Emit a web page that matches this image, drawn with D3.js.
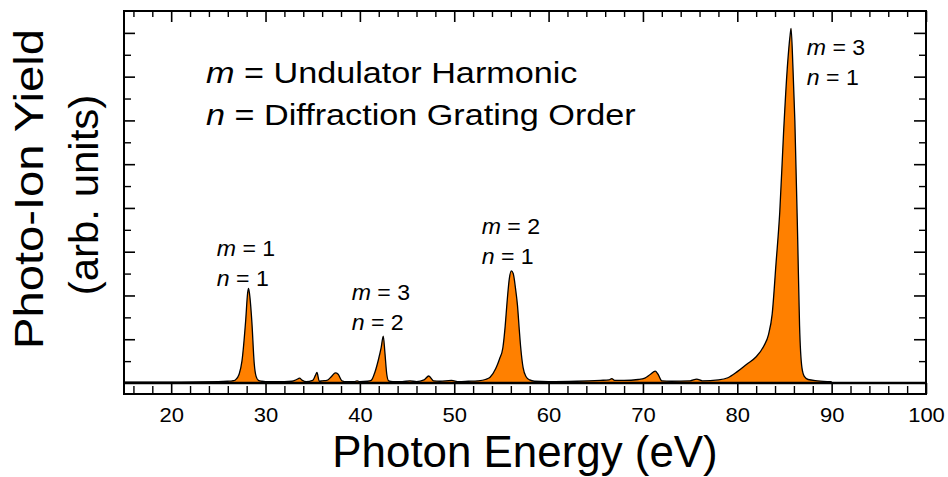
<!DOCTYPE html>
<html>
<head>
<meta charset="utf-8">
<script src="https://cdn.jsdelivr.net/npm/d3@7"></script>
<style>
  html, body { margin: 0; padding: 0; background: #fff; }
  svg { display: block; font-family: "Liberation Sans", Arial, sans-serif; }
</style>
</head>
<body>
<svg id="chart" width="948" height="477"></svg>
<script>
// photo-ion yield spectrum
const energy = [15, 20, 25, 26, 26.5, 26.8, 27.2, 27.5, 27.9, 28.1, 28.2, 28.35, 28.55, 28.8, 29.0, 29.25, 29.6, 30, 32,
  32.8, 33.3, 33.6, 33.9, 34.3, 35.0, 35.3, 35.45, 35.7, 36.0, 36.5, 37.0, 37.4, 37.7, 38.1, 38.6, 39.4, 39.7, 40.0,
  40.8, 41.2, 41.6, 41.95, 42.25, 42.48, 42.65, 42.85, 43.05, 43.5, 44.5, 45.3, 46, 46.8, 47.3, 47.8, 48.5, 49.7, 50.5,
  51.5, 52.5, 53.3, 53.8, 54.4, 54.8, 55.15, 55.4, 55.6, 55.85, 56.05, 56.25, 56.5, 56.7, 56.9, 57.05, 57.3, 57.6, 58.0,
  58.5, 60, 63, 65.5, 66.4, 66.7, 67.0, 68, 69.5, 70.2, 70.8, 71.3, 71.6, 72.0, 73, 75, 75.7, 76.3, 78, 79, 80, 81, 82,
  82.8, 83.3, 83.7, 84.1, 84.5, 84.9, 85.3, 85.6, 85.7, 85.9, 86.1, 86.4, 86.6, 86.85, 87.1, 87.5, 88.5, 90];
const ionYield = [0.02, 0.02, 0.03, 0.04, 0.05, 0.07, 0.2, 0.5, 1.44, 2.05, 2.16, 1.95, 1.4, 0.45, 0.15, 0.06, 0.04, 0.03, 0.03,
  0.04, 0.08, 0.11, 0.06, 0.03, 0.06, 0.18, 0.24, 0.04, 0.05, 0.06, 0.15, 0.23, 0.2, 0.05, 0.03, 0.03, 0.05, 0.03,
  0.04, 0.06, 0.25, 0.52, 0.8, 1.07, 0.7, 0.2, 0.05, 0.03, 0.03, 0.05, 0.03, 0.07, 0.16, 0.05, 0.04, 0.06, 0.03,
  0.04, 0.05, 0.08, 0.13, 0.33, 0.55, 0.8, 1.3, 1.85, 2.4, 2.56, 2.5, 2.15, 1.78, 1.2, 0.8, 0.35, 0.15, 0.07,
  0.04, 0.03, 0.04, 0.06, 0.07, 0.1, 0.06, 0.06, 0.08, 0.11, 0.2, 0.27, 0.2, 0.05, 0.04, 0.05, 0.09, 0.05, 0.07, 0.12, 0.26, 0.43, 0.6,
  0.84, 1.1, 1.58, 2.72, 3.9, 5.7, 7.2, 7.95, 8.1, 7.2, 6.0, 3.3, 1.3, 0.35, 0.15, 0.08, 0.05, 0.03];

const majorX = d3.range(20, 101, 10);
const minorX = d3.range(16, 100, 2).filter(v => v % 10 !== 0);
const majorY = d3.range(1, 9);
const minorY = d3.range(0.5, 8, 1);

// peak annotations: harmonic m, grating order n, and where the label sits (eV, yield)
const peakM = ["1", "3", "2", "3"];
const peakN = ["1", "2", "1", "1"];
const labelE = [24.83, 39.13, 52.91, 87.36];
const labelY = [2.21, 1.21, 2.72, 6.80];

const svg = d3.select("#chart");
const x = d3.scaleLinear().domain([15, 100]).range([124, 926]);
const y = d3.scaleLinear().domain([0, 8.5]).range([383, 11]);

const points = energy.map((e, i) => ({ e, v: ionYield[i] }));

// filled spectrum
svg.append("path")
  .datum(points)
  .attr("fill", "#ff8000")
  .attr("d", d3.area().x(d => x(d.e)).y0(y(0)).y1(d => y(d.v)).curve(d3.curveMonotoneX));
svg.append("path")
  .datum(points)
  .attr("fill", "none")
  .attr("stroke", "#000")
  .attr("stroke-width", 1.3)
  .attr("stroke-linejoin", "round")
  .attr("d", d3.line().x(d => x(d.e)).y(d => y(d.v)).curve(d3.curveMonotoneX));

function axisG(tr, axis, width) {
  const g = svg.append("g").attr("transform", tr).call(axis);
  g.select(".domain").remove();
  g.selectAll(".tick line").attr("stroke", "#000").attr("stroke-width", width);
  return g;
}

// bottom band: major ticks hang from the zero line, minor rise from the frame bottom
const bottom = axisG("translate(0,383)", d3.axisBottom(x).tickValues(majorX).tickSize(11).tickPadding(14).tickFormat(d3.format("d")), 1.6);
bottom.attr("font-family", null).attr("font-size", null);
bottom.selectAll("text")
  .attr("fill", "#000")
  .style("font-size", "20px")
  .attr("transform", "scale(1.1,1)");
axisG("translate(0,394)", d3.axisTop(x).tickValues(minorX).tickSize(8).tickFormat(""), 1.4);

// top ticks
axisG("translate(0,11)", d3.axisBottom(x).tickValues(majorX).tickSize(11).tickFormat(""), 1.6);
axisG("translate(0,11)", d3.axisBottom(x).tickValues(minorX).tickSize(6).tickFormat(""), 1.4);

// left and right ticks
axisG("translate(124,0)", d3.axisRight(y).tickValues(majorY).tickSize(11).tickFormat(""), 1.6);
axisG("translate(124,0)", d3.axisRight(y).tickValues(minorY).tickSize(7).tickFormat(""), 1.4);
axisG("translate(926,0)", d3.axisLeft(y).tickValues(majorY).tickSize(12).tickFormat(""), 1.6);
axisG("translate(926,0)", d3.axisLeft(y).tickValues(minorY).tickSize(7).tickFormat(""), 1.4);

// frame and zero line
svg.append("rect")
  .attr("x", 124).attr("y", 11).attr("width", 802).attr("height", 383)
  .attr("fill", "none").attr("stroke", "#000").attr("stroke-width", 2);
svg.append("line")
  .attr("x1", 124).attr("x2", 926).attr("y1", y(0)).attr("y2", y(0))
  .attr("stroke", "#000").attr("stroke-width", 2.6);

// text with an italic variable name in front
function varText(px, py, size, sx, name, rest) {
  const t = svg.append("text")
    .attr("transform", `translate(${px},${py}) scale(${sx},1)`)
    .style("font-size", size + "px")
    .attr("fill", "#000");
  t.append("tspan").style("font-style", "italic").text(name);
  t.append("tspan").text(rest);
}

varText(206, 83, 30, 1.14, "m", " = Undulator Harmonic");
varText(206, 124.5, 30, 1.14, "n", " = Diffraction Grating Order");

peakM.forEach((m, i) => {
  const px = x(labelE[i]), py = y(labelY[i]);
  varText(px, py - 30, 22, 1.05, "m", " = " + m);
  varText(px, py, 22, 1.05, "n", " = " + peakN[i]);
});

// axis titles
svg.append("text")
  .attr("transform", "translate(525,467) scale(0.975,1)")
  .attr("text-anchor", "middle")
  .style("font-size", "45px")
  .text("Photon Energy (eV)");

svg.append("text")
  .attr("transform", "translate(43,189) rotate(-90) scale(1.18,1)")
  .attr("text-anchor", "middle")
  .style("font-size", "40px")
  .text("Photo-Ion Yield");
svg.append("text")
  .attr("transform", "translate(98,195) rotate(-90) scale(1.05,1)")
  .attr("text-anchor", "middle")
  .style("font-size", "40px")
  .text("(arb. units)");
</script>
</body>
</html>
